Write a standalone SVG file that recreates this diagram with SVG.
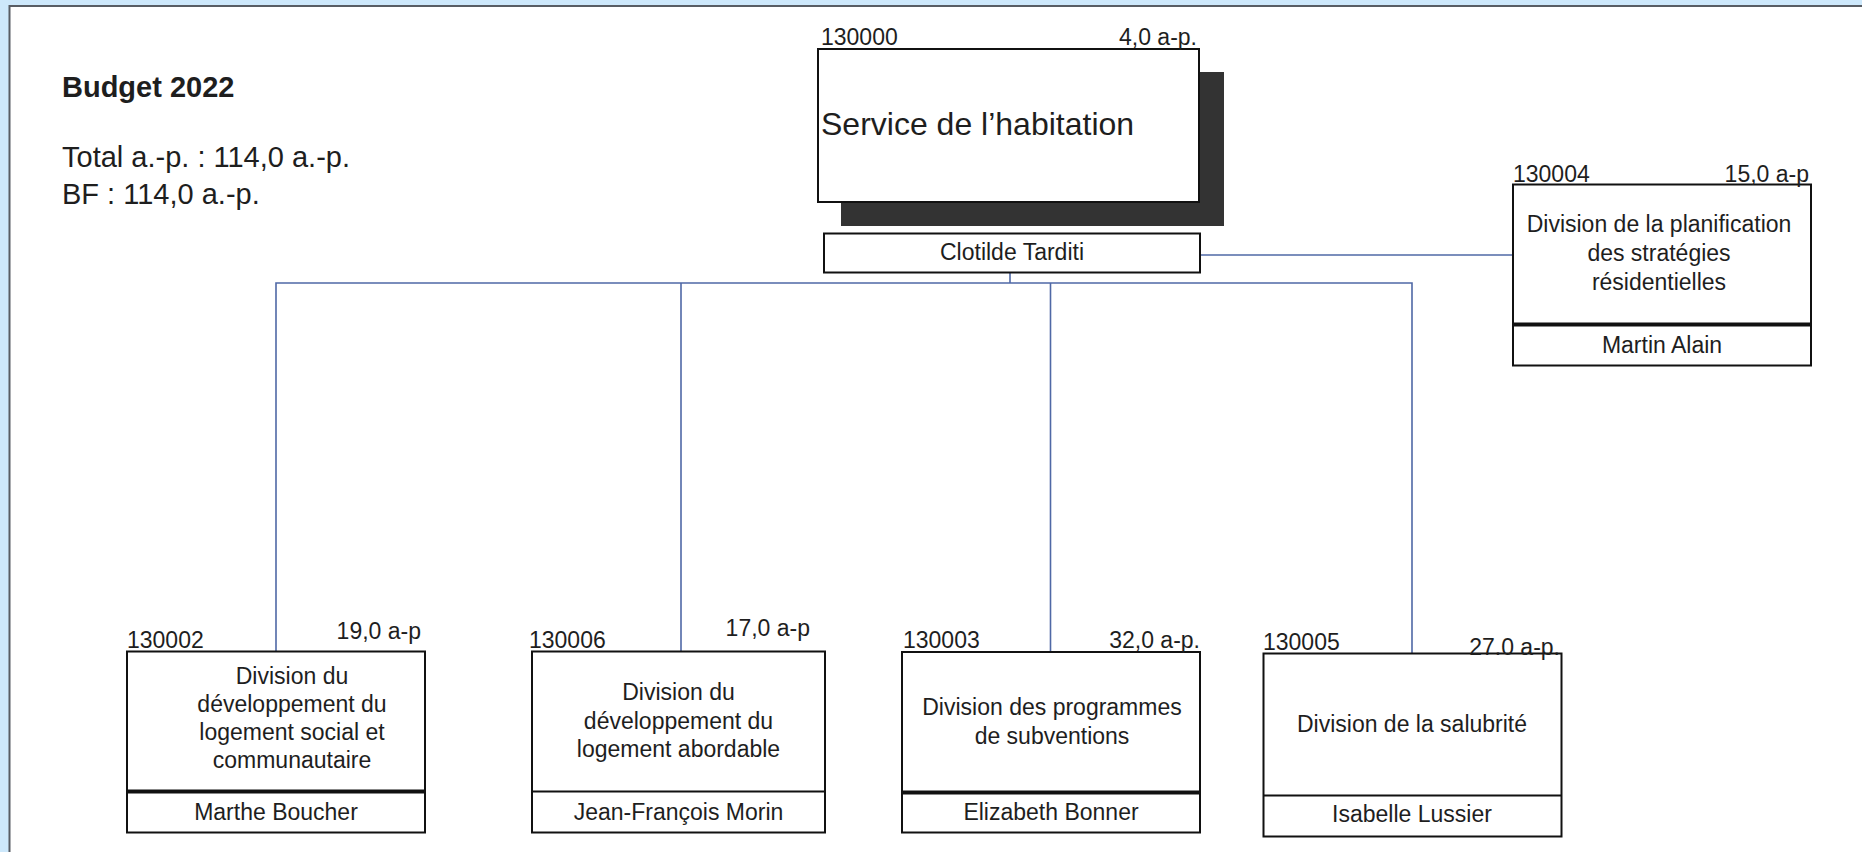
<svg xmlns="http://www.w3.org/2000/svg" width="1862" height="852" viewBox="0 0 1862 852">
<style>
  text { font-family: "Liberation Sans", Arial, sans-serif; fill: #1e1e1e; }
  .code { font-size: 23px; }
  .lbl { font-size: 23px; text-anchor: middle; }
  .box { fill: #ffffff; stroke: #111111; stroke-width: 2; }
  .thick { stroke: #111111; stroke-width: 4; }
  .thin { stroke: #111111; stroke-width: 2; }
  .conn { fill: none; stroke: #4f68a6; stroke-width: 1.6; }
</style>
<rect x="0" y="0" width="1862" height="852" fill="#cde8fb"/>
<rect x="9.5" y="6" width="1860" height="860" fill="#ffffff" stroke="#585d64" stroke-width="2"/>

<g id="budget">
  <text x="62" y="97" font-size="29" font-weight="bold">Budget 2022</text>
  <text x="62" y="167" font-size="29">Total a.-p. : 114,0 a.-p.</text>
  <text x="62" y="204" font-size="29">BF : 114,0 a.-p.</text>
</g>

<g id="connectors">
  <polyline class="conn" points="1010,273 1010,283"/>
  <polyline class="conn" points="276,651 276,283 1412,283 1412,653"/>
  <line class="conn" x1="681" y1="283" x2="681" y2="651"/>
  <line class="conn" x1="1050.5" y1="283" x2="1050.5" y2="652"/>
  <line class="conn" x1="1200" y1="255" x2="1513" y2="255"/>
</g>

<g id="node-130000">
  <rect x="841" y="72" width="383" height="154" fill="#333333"/>
  <rect class="box" x="818" y="49" width="381" height="153"/>
  <text x="821" y="45" font-size="23">130000</text>
  <text x="1197" y="45" font-size="23" text-anchor="end">4,0 a-p.</text>
  <text x="821" y="135" font-size="32">Service de l’habitation</text>
</g>

<g id="node-clotilde">
  <rect class="box" x="824" y="233.5" width="376" height="39"/>
  <text x="1012" y="260" font-size="23" text-anchor="middle">Clotilde Tarditi</text>
</g>

<g id="node-130004">
  <rect class="box" x="1513" y="184.5" width="298" height="181"/>
  <line class="thick" x1="1513" y1="324.5" x2="1811" y2="324.5"/>
  <text class="code" x="1513" y="182">130004</text>
  <text class="code" x="1809" y="182" text-anchor="end">15,0 a-p</text>
  <text class="lbl" x="1659" y="232">Division de la planification</text>
  <text class="lbl" x="1659" y="261">des stratégies</text>
  <text class="lbl" x="1659" y="290">résidentielles</text>
  <text class="lbl" x="1662" y="353">Martin Alain</text>
</g>

<g id="node-130002">
  <rect class="box" x="127" y="651.5" width="298" height="181"/>
  <line class="thick" x1="127" y1="791.5" x2="425" y2="791.5"/>
  <text class="code" x="127" y="648">130002</text>
  <text class="code" x="421" y="639" text-anchor="end">19,0 a-p</text>
  <text class="lbl" x="292" y="684">Division du</text>
  <text class="lbl" x="292" y="712">développement du</text>
  <text class="lbl" x="292" y="740">logement social et</text>
  <text class="lbl" x="292" y="768">communautaire</text>
  <text class="lbl" x="276" y="820">Marthe Boucher</text>
</g>

<g id="node-130006">
  <rect class="box" x="532" y="651.5" width="293" height="181"/>
  <line class="thin" x1="532" y1="791.5" x2="825" y2="791.5"/>
  <text class="code" x="529" y="648">130006</text>
  <text class="code" x="810" y="636" text-anchor="end">17,0 a-p</text>
  <text class="lbl" x="678.5" y="700">Division du</text>
  <text class="lbl" x="678.5" y="728.5">développement du</text>
  <text class="lbl" x="678.5" y="757">logement abordable</text>
  <text class="lbl" x="678.5" y="820">Jean-François Morin</text>
</g>

<g id="node-130003">
  <rect class="box" x="902" y="652" width="298" height="180.5"/>
  <line class="thick" x1="902" y1="792.5" x2="1200" y2="792.5"/>
  <text class="code" x="903" y="648">130003</text>
  <text class="code" x="1200" y="648" text-anchor="end">32,0 a-p.</text>
  <text class="lbl" x="1052" y="715">Division des programmes</text>
  <text class="lbl" x="1052" y="744">de subventions</text>
  <text class="lbl" x="1051" y="820">Elizabeth Bonner</text>
</g>

<g id="node-130005">
  <rect class="box" x="1263.5" y="653.5" width="298" height="183"/>
  <line class="thin" x1="1263.5" y1="795.5" x2="1561.5" y2="795.5"/>
  <text class="code" x="1263" y="650">130005</text>
  <text class="code" x="1560" y="655" text-anchor="end">27.0 a-p.</text>
  <text class="lbl" x="1412" y="732">Division de la salubrité</text>
  <text class="lbl" x="1412" y="822">Isabelle Lussier</text>
</g>
</svg>
